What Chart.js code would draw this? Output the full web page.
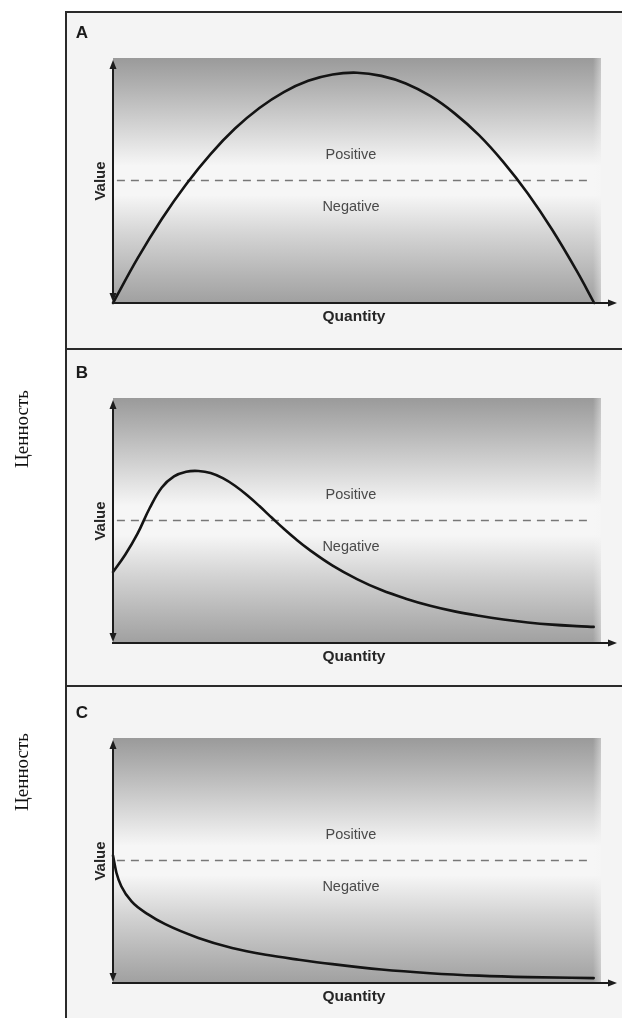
<!DOCTYPE html>
<html><head><meta charset="utf-8">
<script src="https://cdn.jsdelivr.net/npm/chart.js@4/dist/chart.umd.min.js"></script>
<style>
html,body{margin:0;padding:0;background:#fff;}
body{width:622px;height:1018px;position:relative;overflow:hidden;font-family:"Liberation Sans",Arial,sans-serif;}
.frame{position:absolute;left:65px;top:11px;width:557px;height:1007px;background:#f4f4f4;border-left:2px solid #2a2a2a;border-top:2px solid #2a2a2a;box-sizing:border-box;}
.sep{position:absolute;left:65px;width:557px;height:2px;background:#2a2a2a;}
canvas{position:absolute;left:0;}
.t{position:absolute;transform:translate(-50%,-50%);white-space:nowrap;line-height:1;}
</style></head><body>
<div class="frame"></div>
<div class="sep" style="top:348px"></div>
<div class="sep" style="top:685px"></div>
<canvas id="cA" width="622" height="349" style="top:0px"></canvas>
<canvas id="cB" width="622" height="337" style="top:349px"></canvas>
<canvas id="cC" width="622" height="332" style="top:686px"></canvas>
<script>
// ---- data (x = share of the quantity axis, 0-100; y = value, 0-100) ----
const xA = [0,5,10,15,20,25,30,35,40,45,50,55,60,65,70,75,80,85,90,95,98.6];
const yA = [0,18.1,34.3,48.5,60.8,71.2,79.6,86.1,90.7,93.3,94,92.7,89.6,84.5,77.4,68.5,57.5,44.7,29.9,13.2,0];

const xB = [0,2.5,5,7.5,10,12.5,15,17.5,20,22.5,25,27.5,30,32.5,35,37.5,40,45,50,55,60,65,70,75,80,85,90,95,98.5];
const yB = [29,36,44.5,55,63.5,68,69.9,70.2,69.4,67.3,64.2,60.3,55.9,51.2,46.6,42.3,38.4,31.6,26.1,21.6,18.1,15.2,12.9,11.1,9.6,8.4,7.5,6.9,6.6];

const xC = [0,0.7,1.7,3.8,7.2,10.7,17.5,24.4,31.3,38.1,45,55,65,75,85,98.5];
const yC = [52,45,39.5,33.3,28,24,18.4,14.3,11.5,9.5,7.7,5.5,4.0,3.0,2.4,2.0];

const neutralValue = 50;          // dashed line between positive and negative
const neutralSpan = [0.8, 97.7];  // x extent of the dashed line

const panelLetters = ['A','B','C'];
const axisTitleY = 'Value';
const axisTitleX = 'Quantity';
const zoneAbove = 'Positive';
const zoneBelow = 'Negative';
const sideLabel = 'Ценность';

// ---- drawing ----
const decor = {
  id: 'decor',
  beforeDatasetsDraw(chart) {
    const {ctx, chartArea: a} = chart;
    const g = ctx.createLinearGradient(0, a.top, 0, a.bottom);
    g.addColorStop(0, '#9a9a9a');
    g.addColorStop(0.12, '#b2b2b2');
    g.addColorStop(0.3, '#d8d8d8');
    g.addColorStop(0.44, '#f6f6f6');
    g.addColorStop(0.56, '#f6f6f6');
    g.addColorStop(0.72, '#d4d4d4');
    g.addColorStop(0.9, '#b2b2b2');
    g.addColorStop(1, '#a0a0a0');
    ctx.save();
    ctx.fillStyle = g;
    ctx.fillRect(a.left, a.top, a.right - a.left, a.bottom - a.top);
    const h = ctx.createLinearGradient(a.right - 8, 0, a.right, 0);
    h.addColorStop(0, 'rgba(244,244,244,0)');
    h.addColorStop(1, 'rgba(244,244,244,0.45)');
    ctx.fillStyle = h;
    ctx.fillRect(a.right - 8, a.top, 8, a.bottom - a.top);
    ctx.restore();
  },
  afterDatasetsDraw(chart) {
    const {ctx, chartArea: a} = chart;
    const tipX = chart.width - 5;
    ctx.save();
    ctx.strokeStyle = '#1c1c1c';
    ctx.fillStyle = '#1c1c1c';
    ctx.lineWidth = 2;
    ctx.beginPath();
    ctx.moveTo(a.left, a.top + 8);
    ctx.lineTo(a.left, a.bottom - 6);
    ctx.moveTo(a.left - 1, a.bottom);
    ctx.lineTo(tipX - 7, a.bottom);
    ctx.stroke();
    ctx.beginPath();
    ctx.moveTo(a.left, a.top + 2);
    ctx.lineTo(a.left - 3.5, a.top + 11);
    ctx.lineTo(a.left + 3.5, a.top + 11);
    ctx.closePath(); ctx.fill();
    ctx.beginPath();
    ctx.moveTo(a.left, a.bottom - 1);
    ctx.lineTo(a.left - 3.5, a.bottom - 10);
    ctx.lineTo(a.left + 3.5, a.bottom - 10);
    ctx.closePath(); ctx.fill();
    ctx.beginPath();
    ctx.moveTo(tipX, a.bottom);
    ctx.lineTo(tipX - 9, a.bottom - 3.5);
    ctx.lineTo(tipX - 9, a.bottom + 3.5);
    ctx.closePath(); ctx.fill();
    ctx.restore();
  }
};

function makeChart(id, xs, ys, padTop, padBottom, mode) {
  const pts = xs.map((x, i) => ({x: x, y: ys[i]}));
  const dash = neutralSpan.map(x => ({x: x, y: neutralValue}));
  return new Chart(document.getElementById(id), {
    type: 'line',
    data: {
      datasets: [
        {data: pts, borderColor: '#141414', borderWidth: 2.6, pointRadius: 0,
         cubicInterpolationMode: mode, tension: 0.4, fill: false, clip: 12,
         borderCapStyle: 'round', borderJoinStyle: 'round'},
        {data: dash, borderColor: '#777777', borderWidth: 1.7, borderDash: [8, 6],
         pointRadius: 0, fill: false, clip: 12}
      ]
    },
    options: {
      responsive: false, animation: false, devicePixelRatio: 1, events: [],
      layout: {padding: {left: 113, right: 21, top: padTop, bottom: padBottom}},
      plugins: {legend: {display: false}, tooltip: {enabled: false}, title: {display: false}},
      scales: {
        x: {type: 'linear', min: 0, max: 100, display: false},
        y: {type: 'linear', min: 0, max: 100, display: false}
      }
    },
    plugins: [decor]
  });
}

makeChart('cA', xA, yA, 58, 46, 'default');
makeChart('cB', xB, yB, 49, 43, 'default');
makeChart('cC', xC, yC, 52, 35, 'monotone');

// ---- text ----
function label(text, x, y, css, rot) {
  const d = document.createElement('div');
  d.className = 't';
  d.textContent = text;
  d.style.left = x + 'px';
  d.style.top = y + 'px';
  d.style.cssText += css;
  if (rot) d.style.transform = 'translate(-50%,-50%) rotate(-90deg)';
  document.body.appendChild(d);
}
const rectTops = [58, 398, 738];
const rectBottoms = [303, 643, 983];
rectTops.forEach((t, i) => {
  label(panelLetters[i], 82, t - 26, 'font-weight:bold;font-size:17px;color:#1a1a1a;');
  label(axisTitleY, 99, t + 123, 'font-weight:bold;font-size:15px;color:#262626;', true);
  label(zoneAbove, 351, t + 96, 'font-size:14.5px;color:#4a4a4a;');
  label(zoneBelow, 351, t + 148, 'font-size:14.5px;color:#4a4a4a;');
  label(axisTitleX, 354, rectBottoms[i] + 13, 'font-weight:bold;font-size:15.5px;color:#262626;');
});
label(sideLabel, 21, 429, 'font-family:"Liberation Serif","DejaVu Serif",serif;font-size:19px;color:#111;', true);
label(sideLabel, 21, 772, 'font-family:"Liberation Serif","DejaVu Serif",serif;font-size:19px;color:#111;', true);
</script>
</body></html>
